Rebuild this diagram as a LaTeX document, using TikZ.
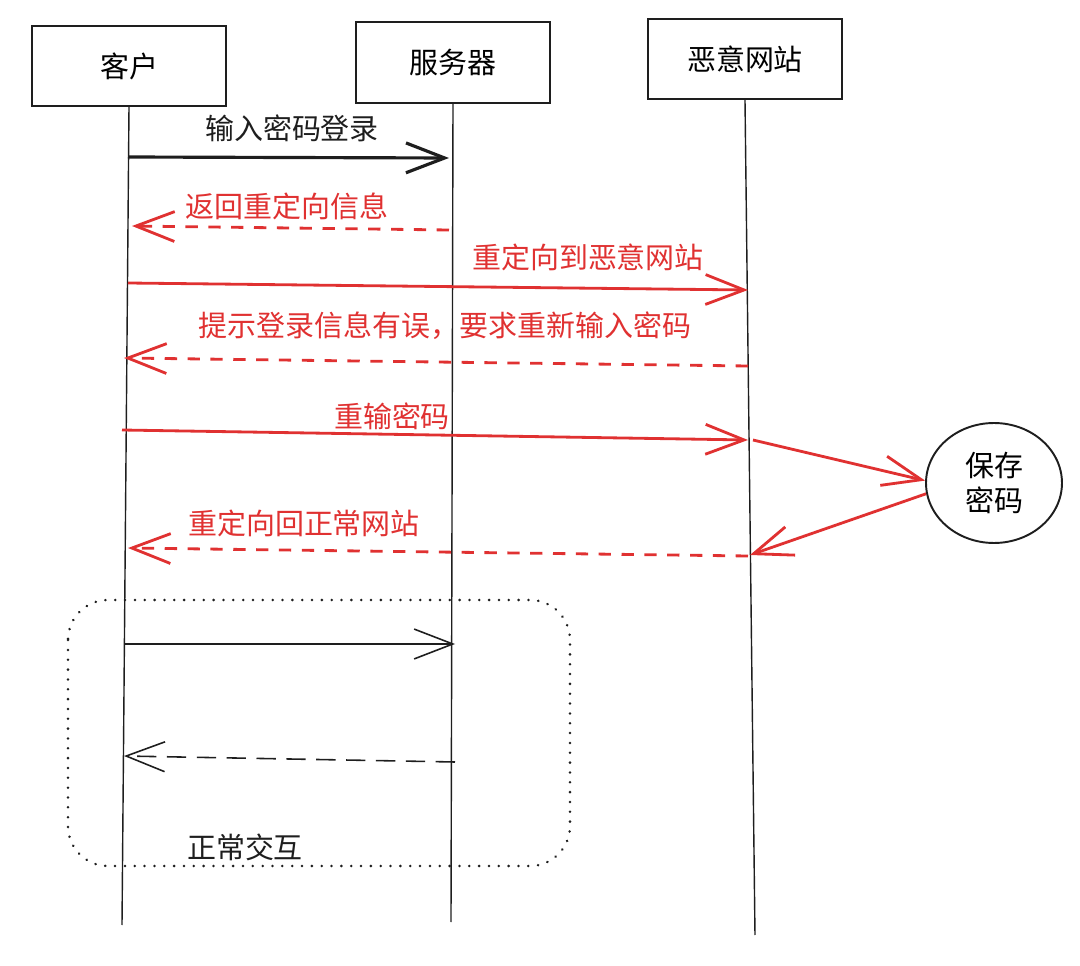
\documentclass[tikz,border=0pt]{standalone}
\usepackage{fontspec}
\setmainfont{Noto Sans CJK SC}
\usepackage{xcolor}
\usetikzlibrary{arrows.meta,shapes.geometric}
\definecolor{warnred}{HTML}{E03131}
\definecolor{inkblack}{HTML}{1E1E1E}

\tikzset{
    actor/.style={draw=inkblack, line width=1pt, minimum width=3.88cm, minimum height=1.6cm, font=\fontsize{16.5}{20}\selectfont},
    lifeline/.style={draw=inkblack, line width=0.8pt},
    msg/.style={->, line width=1.6pt},
    lbl/.style={font=\fontsize{16.5}{20}\selectfont, inner sep=0pt},
    >={Straight Barb[length=22pt,width=17pt]}
}

\begin{document}
\begin{tikzpicture}[x=0.02cm, y=-0.02cm]
    \useasboundingbox (0,0) rectangle (1080,966);
    \node[actor] (client) at (129,66) {客户};
    \node[actor, minimum height=1.62cm] (server) at (453,62.5) {服务器};
    \node[actor] (evil) at (745,59) {恶意网站};
    \node[draw=inkblack, line width=1.1pt, ellipse, minimum width=2.72cm, minimum height=2.4cm, align=center, font=\fontsize{16.5}{20}\selectfont] (save) at (994,483) {保存\\密码};
    \coordinate (clientend) at (122,925);
    \coordinate (serverend) at (451,922);
    \coordinate (evilend) at (755,935);
    \draw[lifeline] (client.south) -- (clientend);
    \draw[lifeline] (server.south) -- (serverend);
    \draw[lifeline] (evil.south) -- (evilend);
    \coordinate (c1) at (128,157); \coordinate (s1) at (449,158);
    \coordinate (s2) at (449,230); \coordinate (c2) at (132,226);
    \coordinate (c3) at (128,283); \coordinate (e3) at (748,290);
    \coordinate (e4) at (748,366); \coordinate (c4) at (124,358);
    \coordinate (c5) at (122,430); \coordinate (e5) at (748,440);
    \coordinate (e6) at (753,440); \coordinate (e7) at (750,555);
    \coordinate (e8) at (748,556); \coordinate (c8) at (128,548);
    \coordinate (c9) at (124,644); \coordinate (s9) at (455,644);
    \coordinate (s10) at (455,762); \coordinate (c10) at (124,756);
    \draw[msg, inkblack, line width=1.8pt] (c1) -- (s1);
    \draw[msg, warnred, dash pattern=on 7pt off 6pt] (s2) -- (c2);
    \draw[msg, warnred] (c3) -- (e3);
    \draw[msg, warnred, dash pattern=on 7pt off 6pt] (e4) -- (c4);
    \draw[msg, warnred] (c5) -- (e5);
    \draw[msg, warnred] (e6) -- (save.178);
    \draw[msg, warnred] (save.189) -- (e7);
    \draw[msg, warnred, dash pattern=on 7pt off 6pt] (e8) -- (c8);
    \draw[msg, inkblack, line width=0.9pt] (c9) -- (s9);
    \draw[msg, inkblack, line width=0.9pt, dash pattern=on 11pt off 6pt] (s10) -- (c10);
    \node[lbl, text=inkblack] (login) at (292,128) {输入密码登录};
    \node[lbl, text=warnred] (redirect) at (287,206) {返回重定向信息};
    \node[lbl, text=warnred] (toevil) at (588,257) {重定向到恶意网站};
    \node[lbl, text=warnred] (retry) at (445,326) {提示登录信息有误，要求重新输入密码};
    \node[lbl, text=warnred] (reenter) at (392,416) {重输密码};
    \node[lbl, text=warnred] (back) at (304,523) {重定向回正常网站};
    \draw[inkblack, line width=1.5pt, rounded corners=0.8cm, dash pattern=on 0.1pt off 5.5pt, line cap=round] (68,600) rectangle (570,866);
    \node[lbl, text=inkblack] (normal) at (245,847) {正常交互};
\end{tikzpicture}
\end{document}
